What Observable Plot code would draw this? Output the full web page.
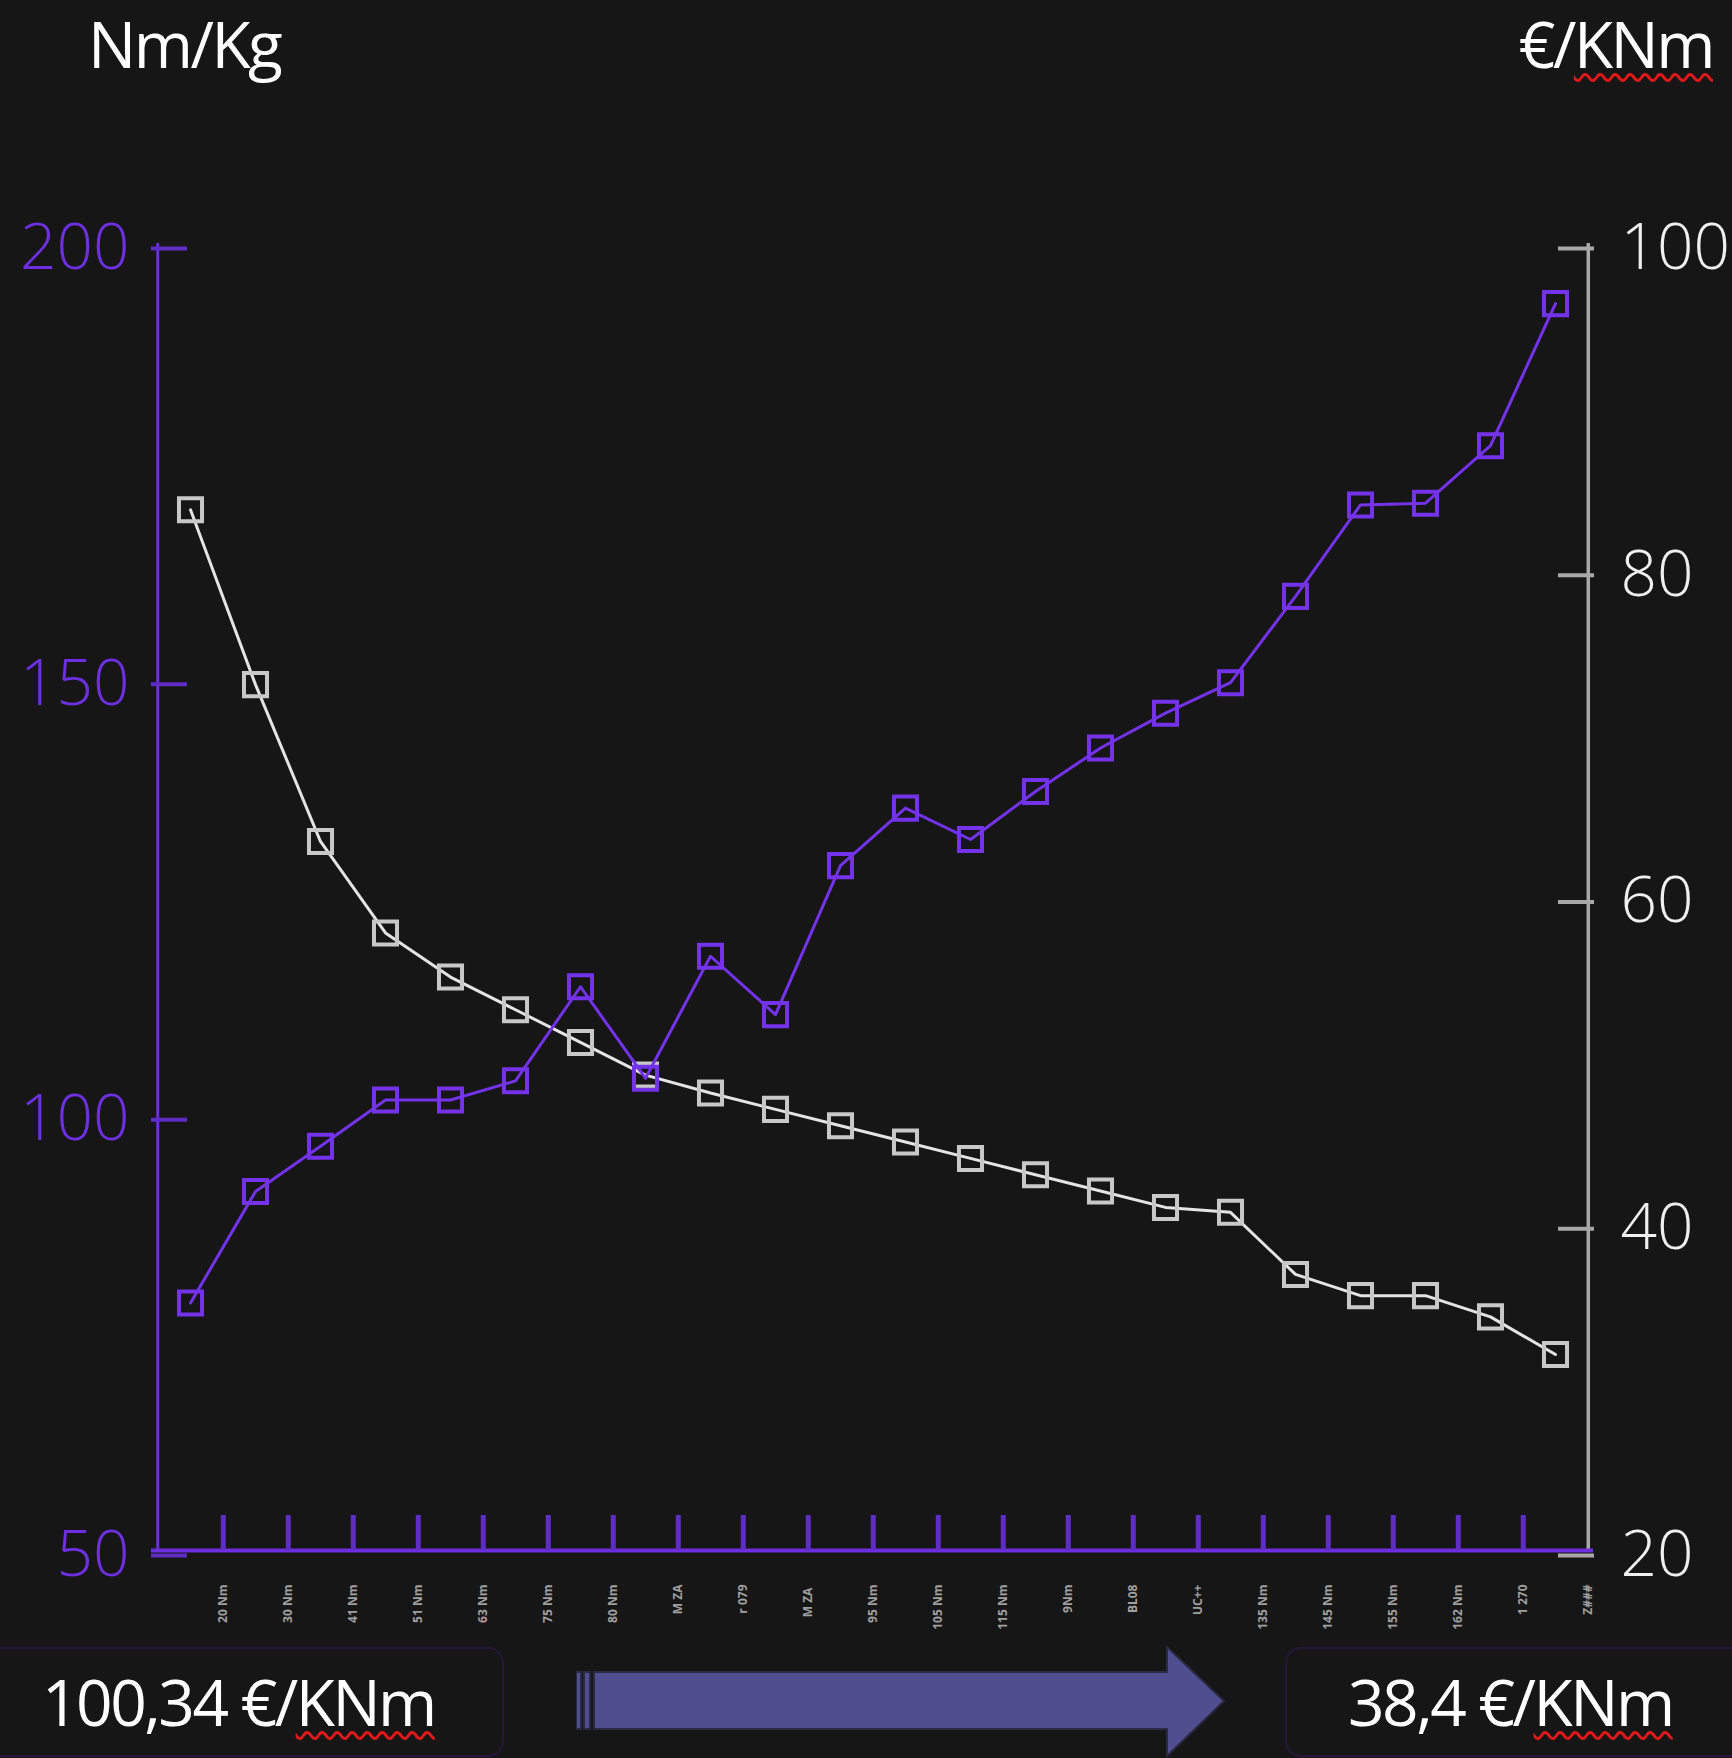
<!DOCTYPE html>
<html><head><meta charset="utf-8">
<script src="https://cdn.jsdelivr.net/npm/d3@7"></script>
<script src="https://cdn.jsdelivr.net/npm/@observablehq/plot@0.6"></script>
<style>
html,body{margin:0;padding:0;background:#161616;}
#wrap{position:relative;width:1732px;height:1758px;overflow:hidden;font-family:"Open Sans",sans-serif;background:#161616;}
#chart{position:absolute;left:0;top:0;}
.title{position:absolute;top:0;color:#fff;font-size:64px;line-height:88px;letter-spacing:-2.5px;white-space:nowrap;}
.squig{text-decoration:underline wavy #e01818;text-decoration-thickness:3px;text-underline-offset:5px;text-decoration-skip-ink:none;}
.box{position:absolute;top:1647px;height:106px;border:2px solid #26163c;border-radius:16px;}
.val{position:absolute;color:#fff;font-size:64px;line-height:64px;letter-spacing:-2.5px;white-space:nowrap;}
#arrow{position:absolute;left:576px;top:1646px;}
</style></head>
<body>
<div id="wrap">
  <div id="chart"></div>
  <div class="title" style="left:88px;">Nm/Kg</div>
  <div class="title" style="right:19px;">€/<span class="squig">KNm</span></div>
  <div class="box" style="left:-20px;width:520px;"></div>
  <div class="box" style="left:1285px;width:520px;"></div>
  <div class="val" style="left:42px;top:1670px;">100,34 €/<span class="squig">KNm</span></div>
  <div class="val" style="left:1348px;top:1670px;">38,4 €/<span class="squig">KNm</span></div>
  <svg id="arrow" width="652" height="112" viewBox="0 0 652 112">
    <g fill="#4f4e8f" stroke="#2b2a45" stroke-width="2">
      <rect x="0" y="26" width="5" height="57"/>
      <rect x="8" y="26" width="6" height="57"/>
      <polygon points="18,26 591,26 591,1 648,55 591,110 591,83 18,83"/>
    </g>
  </svg>
</div>
<script>
// ---- data ----
const categories = ["20 Nm","30 Nm","41 Nm","51 Nm","63 Nm","75 Nm","80 Nm","M ZA","r 079","M ZA ","95 Nm","105 Nm","115 Nm","9Nm","BL08","UC++","135 Nm","145 Nm","155 Nm","162 Nm","1 270","Z###"];
const torquePerKg = [78.4, 91.2, 96.4, 101.7, 101.7, 103.9, 114.7, 104.2, 118.2, 111.5, 128.6, 135.2, 131.6, 137.1, 142.1, 146.1, 149.6, 159.5, 170.0, 170.2, 176.8, 193.1];
const costPerKNm = [83.7, 73.0, 63.4, 57.8, 55.1, 53.1, 51.1, 49.1, 48.0, 47.0, 46.0, 45.0, 44.0, 43.0, 42.0, 41.0, 40.7, 36.9, 35.6, 35.6, 34.3, 32.0];
const leftTicks = [50, 100, 150, 200];
const rightTicks = [20, 40, 60, 80, 100];
const leftDomain = [50, 200];
const rightDomain = [20, 100];

// ---- styling ----
const purple = "#7432ea";
const purpleAxis = "#6e2fe0";
const purpleTick = "#5f2cc4";
const gray = "#a8a8a8";
const whiteLine = "#e4e4e4";
const whiteMarker = "#c8c8c8";

const W = 1732, H = 1640, mL = 151, mR = 139, mT = 243, mB = 90;
const n = categories.length;
const step = (W - mL - mR) / n;
const toLeft = v => leftDomain[0] + (v - rightDomain[0]) * (leftDomain[1] - leftDomain[0]) / (rightDomain[1] - rightDomain[0]);
const fromLeft = v => rightDomain[0] + (v - leftDomain[0]) * (rightDomain[1] - rightDomain[0]) / (leftDomain[1] - leftDomain[0]);
const data = categories.map((c, i) => ({c, torque: torquePerKg[i], cost: costPerKNm[i]}));

const chart = Plot.plot({
  width: W, height: H,
  marginLeft: mL, marginRight: mR, marginTop: mT, marginBottom: mB,
  style: {background: "transparent", fontFamily: "Open Sans, sans-serif", overflow: "visible"},
  x: {type: "point", domain: categories, padding: 0.5, axis: null, label: null},
  y: {domain: leftDomain, axis: null, label: null},
  marks: [
    // axis lines
    Plot.ruleX([categories[0]], {dx: -step / 2, y1: leftDomain[0], y2: leftDomain[1], stroke: purpleAxis, strokeWidth: 3}),
    Plot.ruleX([categories[n - 1]], {dx: step / 2, y1: leftDomain[0], y2: leftDomain[1], stroke: gray, strokeWidth: 3.5}),
    Plot.ruleY([leftDomain[0]], {stroke: purpleAxis, strokeWidth: 4}),
    // left axis (inward ticks)
    Plot.axisY({anchor: "left", label: null, ticks: leftTicks, tickSize: 36, dx: 36, tickPadding: 22, dy: 5,
      stroke: purpleTick, strokeWidth: 4, fill: purpleAxis, fontSize: 64, fontWeight: 300, tickFormat: d => String(d)}),
    // right axis (inward ticks)
    Plot.axisY({anchor: "right", label: null, ticks: rightTicks.map(toLeft), tickSize: 36, dx: -36, tickPadding: 27, dy: 5,
      stroke: gray, strokeWidth: 4, fill: "#efefef", fontSize: 64, fontWeight: 300, textAnchor: "start",
      tickFormat: d => String(Math.round(fromLeft(d)))}),
    // x axis ticks between categories (pointing up)
    Plot.axisX({anchor: "bottom", label: null, ticks: categories.slice(0, n - 1), tickSize: 35, dx: step / 2, dy: -35,
      stroke: purpleTick, strokeWidth: 5, fill: "none"}),
    // x labels (tiny, rotated)
    Plot.axisX({anchor: "bottom", label: null, ticks: categories, tickSize: 0, tickPadding: 34, tickRotate: -90, dx: step / 2,
      fill: "#a0a0a0", fontSize: 12, fontWeight: "bold"}),
    // series: cost (right axis)
    Plot.line(data, {x: "c", y: d => toLeft(d.cost), stroke: whiteLine, strokeWidth: 3}),
    Plot.dot(data, {x: "c", y: d => toLeft(d.cost), symbol: "square", r: 13, stroke: whiteMarker, strokeWidth: 4, fill: "none"}),
    // series: torque per kg (left axis)
    Plot.line(data, {x: "c", y: "torque", stroke: purple, strokeWidth: 3}),
    Plot.dot(data, {x: "c", y: "torque", symbol: "square", r: 13, stroke: purple, strokeWidth: 4, fill: "none"})
  ]
});
document.getElementById("chart").appendChild(chart);
</script>
</body></html>
